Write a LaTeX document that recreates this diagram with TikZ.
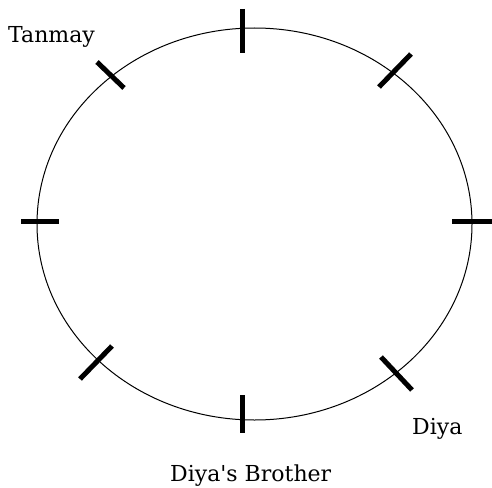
\documentclass[tikz,border=0pt]{standalone}
\usepackage{fontspec}
\setmainfont{DejaVu Serif}
\newcommand{\straightquote}{\XeTeXglyph\XeTeXglyphindex "quotesingle"\relax}
\begin{document}
\begin{tikzpicture}[x=1pt,y=-1pt,
  ring/.style={draw=black,line width=1pt},
  tickmark/.style={draw=black,line width=5pt,line cap=butt},
  lbl/.style={font=\fontsize{22}{26}\selectfont,text=black,inner sep=0pt,anchor=base west}]
\useasboundingbox (0,0) rectangle (492,487);
\draw[ring] (254.5,224) ellipse [x radius=217.5, y radius=196];
% ticks
\coordinate (a1) at (97,62);   \coordinate (a2) at (124,88);
\coordinate (b1) at (242,9);   \coordinate (b2) at (242,53);
\coordinate (c1) at (411,54);  \coordinate (c2) at (379,87);
\coordinate (d1) at (21,221);  \coordinate (d2) at (59,221);
\coordinate (e1) at (452,221); \coordinate (e2) at (492,221);
\coordinate (f1) at (112,346); \coordinate (f2) at (80,379);
\coordinate (g1) at (381,357); \coordinate (g2) at (412,390);
\coordinate (h1) at (242,395); \coordinate (h2) at (242,433);
\foreach \p in {a,b,c,d,e,f,g,h} \draw[tickmark] (\p1) -- (\p2);
% labels
\node[lbl] (tan) at (8,43) {Tanmay};
\node[lbl] (diya) at (412,434) {Diya};
\node[lbl] (bro) at (170,481) {Diya\straightquote s Brother};
\end{tikzpicture}
\end{document}
